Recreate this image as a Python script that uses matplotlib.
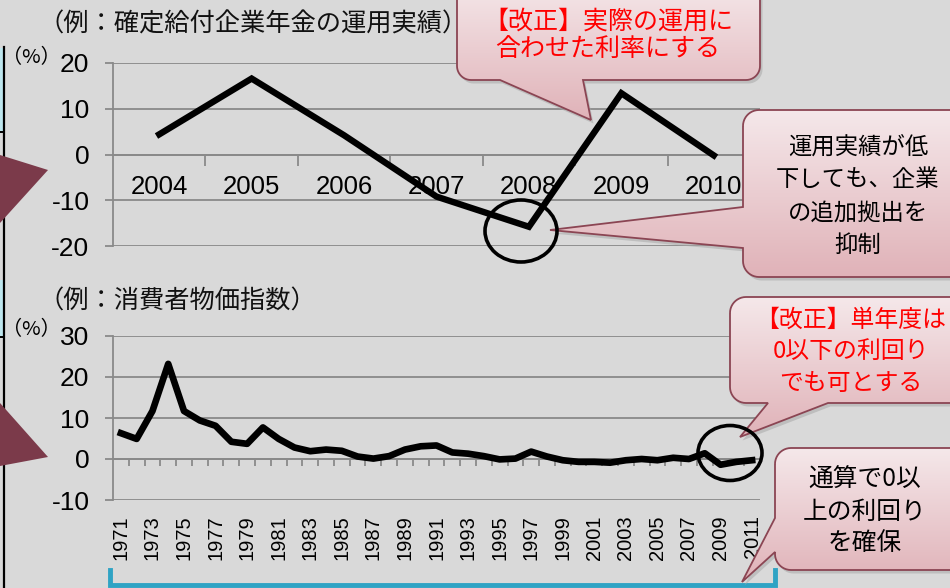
import numpy as np
import matplotlib
matplotlib.use('Agg')
import matplotlib.pyplot as plt
from matplotlib.patches import Polygon, Ellipse
from matplotlib.colors import LinearSegmentedColormap

plt.rcParams['font.family'] = ['Noto Sans CJK JP', 'DejaVu Sans']

# data
db_years = ['2004', '2005', '2006', '2007', '2008', '2009', '2010']
db_return = [4.4, 16.6, 4.2, -9.2, -15.8, 13.4, -0.2]

cpi_years = [str(y) for y in range(1971, 2012)]
cpi = [6.3, 4.9, 11.7, 23.2, 11.7, 9.4, 8.1, 4.2, 3.7, 7.7,
       4.9, 2.8, 1.9, 2.3, 2.0, 0.6, 0.1, 0.7, 2.3, 3.1,
       3.3, 1.6, 1.3, 0.7, -0.1, 0.1, 1.8, 0.6, -0.3, -0.7,
       -0.7, -0.9, -0.3, 0.0, -0.3, 0.3, 0.0, 1.4, -1.4, -0.7, -0.3]

top_yticks = [20, 10, 0, -10, -20]
bot_yticks = [30, 20, 10, 0, -10]

BG = '#D9D9D9'
GRID = '#8A8A8A'
W, H = 950, 588
num_font = 'Liberation Sans'

fig = plt.figure(figsize=(9.5, 5.88), dpi=100, facecolor=BG)


def px_axes(x0, y0, x1, y1):
    return fig.add_axes([x0 / W, 1 - y1 / H, (x1 - x0) / W, (y1 - y0) / H])


def style_axes(ax, yticks, minor_len):
    ax.set_facecolor('none')
    for s in ['top', 'right']:
        ax.spines[s].set_visible(False)
    ax.spines['left'].set_color(GRID)
    ax.spines['left'].set_linewidth(1.3)
    ax.spines['bottom'].set_position(('data', 0))
    ax.spines['bottom'].set_color(GRID)
    ax.spines['bottom'].set_linewidth(1.3)
    ax.set_yticks(yticks)
    ax.set_yticklabels([str(v) for v in yticks], fontsize=19, family=num_font)
    ax.tick_params(axis='y', length=6, width=1.3, color=GRID, pad=11)
    ax.yaxis.grid(True, color=GRID, linewidth=1.3)
    ax.set_axisbelow(True)
    ax.tick_params(axis='x', which='minor', length=minor_len, width=1.3,
                   color=GRID, direction='out')


# top chart: DB pension returns
ax1 = px_axes(113, 63, 760, 246)
x1 = np.arange(len(db_years))
ax1.plot(x1, db_return, color='black', linewidth=4.6, solid_joinstyle='miter', zorder=3)
ax1.set_xlim(-0.5, len(db_years) - 0.5)
ax1.set_ylim(-20, 20)
style_axes(ax1, top_yticks, 8)
ax1.set_xticks(x1)
ax1.set_xticklabels(db_years, fontsize=18.5, family=num_font)
ax1.set_xticks(np.arange(len(db_years) - 1) + 0.5, minor=True)
ax1.tick_params(axis='x', which='major', length=0, pad=15)

# bottom chart: CPI
ax2 = px_axes(113, 336, 760, 500)
x2 = np.arange(len(cpi_years))
ax2.plot(x2, cpi, color='black', linewidth=4.8, solid_joinstyle='round', zorder=3)
ax2.set_xlim(-0.5, len(cpi_years) - 0.5)
ax2.set_ylim(-10, 30)
style_axes(ax2, bot_yticks, 5)
ax2.set_xticks([])
ax2.set_xticks(np.arange(len(cpi_years) - 1) + 0.5, minor=True)
sec = ax2.secondary_xaxis('bottom')
sec.spines['bottom'].set_visible(False)
sec.set_xticks(x2[::2])
sec.set_xticklabels(cpi_years[::2], rotation=90, fontsize=14.5, family=num_font)
sec.tick_params(axis='x', length=0, pad=11)

# overlay in pixel coordinates
ov = fig.add_axes([0, 0, 1, 1])
ov.set_facecolor('none')
ov.axis('off')

pink = LinearSegmentedColormap.from_list('pink', ['#F5E8EA', '#E0B2B8'])
grad = np.linspace(0, 1, 256).reshape(-1, 1)


def callout(x0, y0, x1, y1, r, side, base_a, base_b, tip):
    def arc(cx, cy, a0, a1):
        t = np.radians(np.linspace(a0, a1, 12))
        return list(zip(cx + r * np.cos(t), cy + r * np.sin(t)))
    pts = []
    pts += arc(x0 + r, y0 + r, 180, 270)
    pts += arc(x1 - r, y0 + r, 270, 360)
    pts += arc(x1 - r, y1 - r, 0, 90)
    if side == 'bottom':
        pts += [(base_b, y1), tip, (base_a, y1)]
    pts += arc(x0 + r, y1 - r, 90, 180)
    if side == 'left':
        pts += [(x0, base_b), tip, (x0, base_a)]
    pts = np.array(pts)
    shadow = Polygon(pts + [2.5, 3.5], closed=True, facecolor='#A8A8A8',
                     edgecolor='none', alpha=0.55, zorder=4)
    ov.add_patch(shadow)
    shape = Polygon(pts, closed=True, facecolor='none', edgecolor='#8B4553',
                    linewidth=1.3, zorder=6)
    ov.add_patch(shape)
    im = ov.imshow(grad, extent=(pts[:, 0].min(), pts[:, 0].max(),
                                 pts[:, 1].max(), pts[:, 1].min()),
                   cmap=pink, aspect='auto', zorder=5)
    im.set_clip_path(shape)


def lines(xc, ys, texts, color, size):
    for y, t in zip(ys, texts):
        ov.text(xc, y, t, ha='center', va='center', color=color,
                fontsize=size, zorder=7)


callout(457, -20, 760, 80, 14, 'bottom', 500, 583, (591, 120))
lines(608, [22, 50], ['【改正】実際の運用に', '合わせた利率にする'], '#FF0000', 18)

callout(743, 110, 975, 277, 16, 'left', 207, 248, (550, 230))
lines(858, [147, 180, 213, 245], ['運用実績が低', '下しても、企業', 'の追加拠出を', '抑制'],
      'black', 16.8)

callout(730, 297, 975, 403, 16, 'bottom', 768, 828, (740, 437))
lines(851, [320, 351, 383], ['【改正】単年度は', '0以下の利回り', 'でも可とする'],
      '#FF0000', 17.2)

callout(775, 448, 975, 570, 16, 'left', 518, 552, (742, 582))
lines(865, [480, 512, 543], ['通算で0以', '上の利回り', 'を確保'], 'black', 17.8)

# circles
ov.add_patch(Ellipse((521, 231), 72, 62, fill=False, edgecolor='black',
                     linewidth=2.6, zorder=8))
ov.add_patch(Ellipse((730, 453), 64, 55, fill=False, edgecolor='black',
                     linewidth=2.6, zorder=8))

# blue bracket
ov.plot([110, 110, 775, 775], [570, 585, 585, 570], color='#2FA3C4',
        linewidth=3.5, solid_joinstyle='miter', zorder=3)

# titles and units
ov.text(38, 24, '（例：確定給付企業年金の運用実績）', fontsize=18.2, va='center',
        ha='left', color='#111111')
ov.text(38, 302, '（例：消費者物価指数）', fontsize=18.2, va='center',
        ha='left', color='#111111')
ov.text(2, 58, '（%）', fontsize=14.5, va='center', ha='left')
ov.text(2, 330, '（%）', fontsize=14.5, va='center', ha='left')

# left-edge slide remnants
ov.add_patch(Polygon([(0, 48), (4, 48), (4, 132), (0, 132)], facecolor='#BDE6EE',
                     edgecolor='none', zorder=2))
ov.add_patch(Polygon([(0, 280), (4, 280), (4, 337), (0, 337)], facecolor='#BDE6EE',
                     edgecolor='none', zorder=2))
ov.plot([4, 4], [47, 588], color='black', linewidth=1.6, zorder=2)
ov.plot([0, 4], [132, 132], color='black', linewidth=1.4, zorder=2)
ov.plot([0, 4], [337, 337], color='black', linewidth=1.4, zorder=2)
ov.add_patch(Polygon([(0, 155), (48, 170), (0, 223)], facecolor='#7B3A4A',
                     edgecolor='none', zorder=3))
ov.add_patch(Polygon([(0, 403), (48, 457), (0, 466)], facecolor='#7B3A4A',
                     edgecolor='none', zorder=3))

ov.set_xlim(0, W)
ov.set_ylim(H, 0)

fig.savefig('out.png', dpi=100, facecolor=BG)
